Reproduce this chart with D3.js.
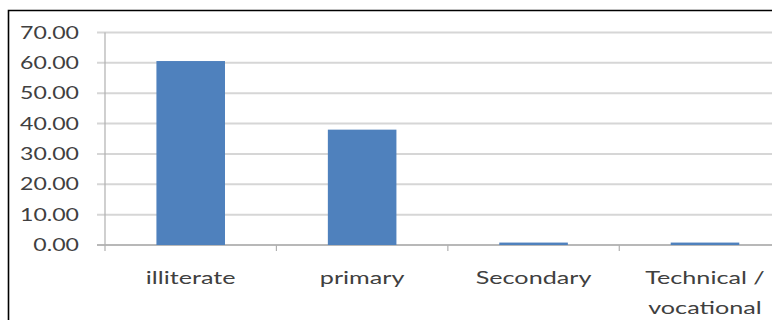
<!DOCTYPE html>
<html><head><meta charset="utf-8">
<script src="https://cdn.jsdelivr.net/npm/d3@7"></script>
<style>
html,body{margin:0;padding:0;background:#fff;}
svg{display:block;}
</style></head>
<body>
<svg id="c" width="772" height="320"></svg>
<script>
const categories = ["illiterate", "primary", "Secondary", "Technical /\nvocational"];
const values = [60.6, 38.0, 0.8, 0.8];
const yTicks = [0, 10, 20, 30, 40, 50, 60, 70];

const svg = d3.select("#c");
const W = 772, H = 320;
const sx = 1.4; // horizontal stretch of the reference text
const font = "Lato, 'Open Sans', sans-serif";

const x = d3.scaleBand().domain(categories).range([105, 790.7]).paddingInner(0.6).paddingOuter(0.3);
const xb = d3.scaleBand().domain(categories).range([105, 790.7]);
const y = d3.scaleLinear().domain([0, 70]).range([245, 32.5]);

// frame
svg.append("path").attr("d", `M8.5,${H} L8.5,10.5 L${W},10.5`).attr("fill","none").attr("stroke","#000").attr("stroke-width",1.6);

// gridlines
svg.append("g").selectAll("line").data(yTicks).join("line")
  .attr("x1", 97).attr("x2", W)
  .attr("y1", d => y(d)).attr("y2", d => y(d))
  .attr("stroke", d => d === 0 ? "#b8b8b8" : "#d6d6d6").attr("stroke-width", 2);

// y axis line
svg.append("line").attr("x1",105).attr("x2",105).attr("y1",y(70)).attr("y2",y(0)+6)
  .attr("stroke","#b0b0b0").attr("stroke-width",1.2);

// x ticks at band boundaries
svg.append("g").selectAll("line").data(categories.slice(1)).join("line")
  .attr("x1", d => xb(d)).attr("x2", d => xb(d))
  .attr("y1", y(0)).attr("y2", y(0)+6)
  .attr("stroke","#b0b0b0").attr("stroke-width",1.2);

// bars
svg.append("g").selectAll("rect").data(values).join("rect")
  .attr("x", (d,i) => x(categories[i]))
  .attr("width", x.bandwidth())
  .attr("y", d => y(d))
  .attr("height", d => y(0) - y(d))
  .attr("fill", "#4f81bd");

// y labels
svg.append("g").selectAll("text").data(yTicks).join("text")
  .attr("transform", d => `translate(79,${y(d)+6}) scale(${sx},1)`)
  .attr("text-anchor","end")
  .attr("font-family", font).attr("font-size", 16.5).attr("fill","#404040")
  .text(d => d.toFixed(2));

// x labels
const xl = svg.append("g").selectAll("text").data(categories).join("text")
  .attr("transform", d => `translate(${xb(d) + xb.bandwidth()/2},284) scale(${sx},1)`)
  .attr("text-anchor","middle")
  .attr("font-family", font).attr("font-size", 18).attr("fill","#404040");
xl.each(function(d){
  const parts = d.split("\n");
  d3.select(this).selectAll("tspan").data(parts).join("tspan")
    .attr("x", 0).attr("dy", (p,i) => i === 0 ? 0 : 30).text(p => p);
});
</script>
</body></html>
